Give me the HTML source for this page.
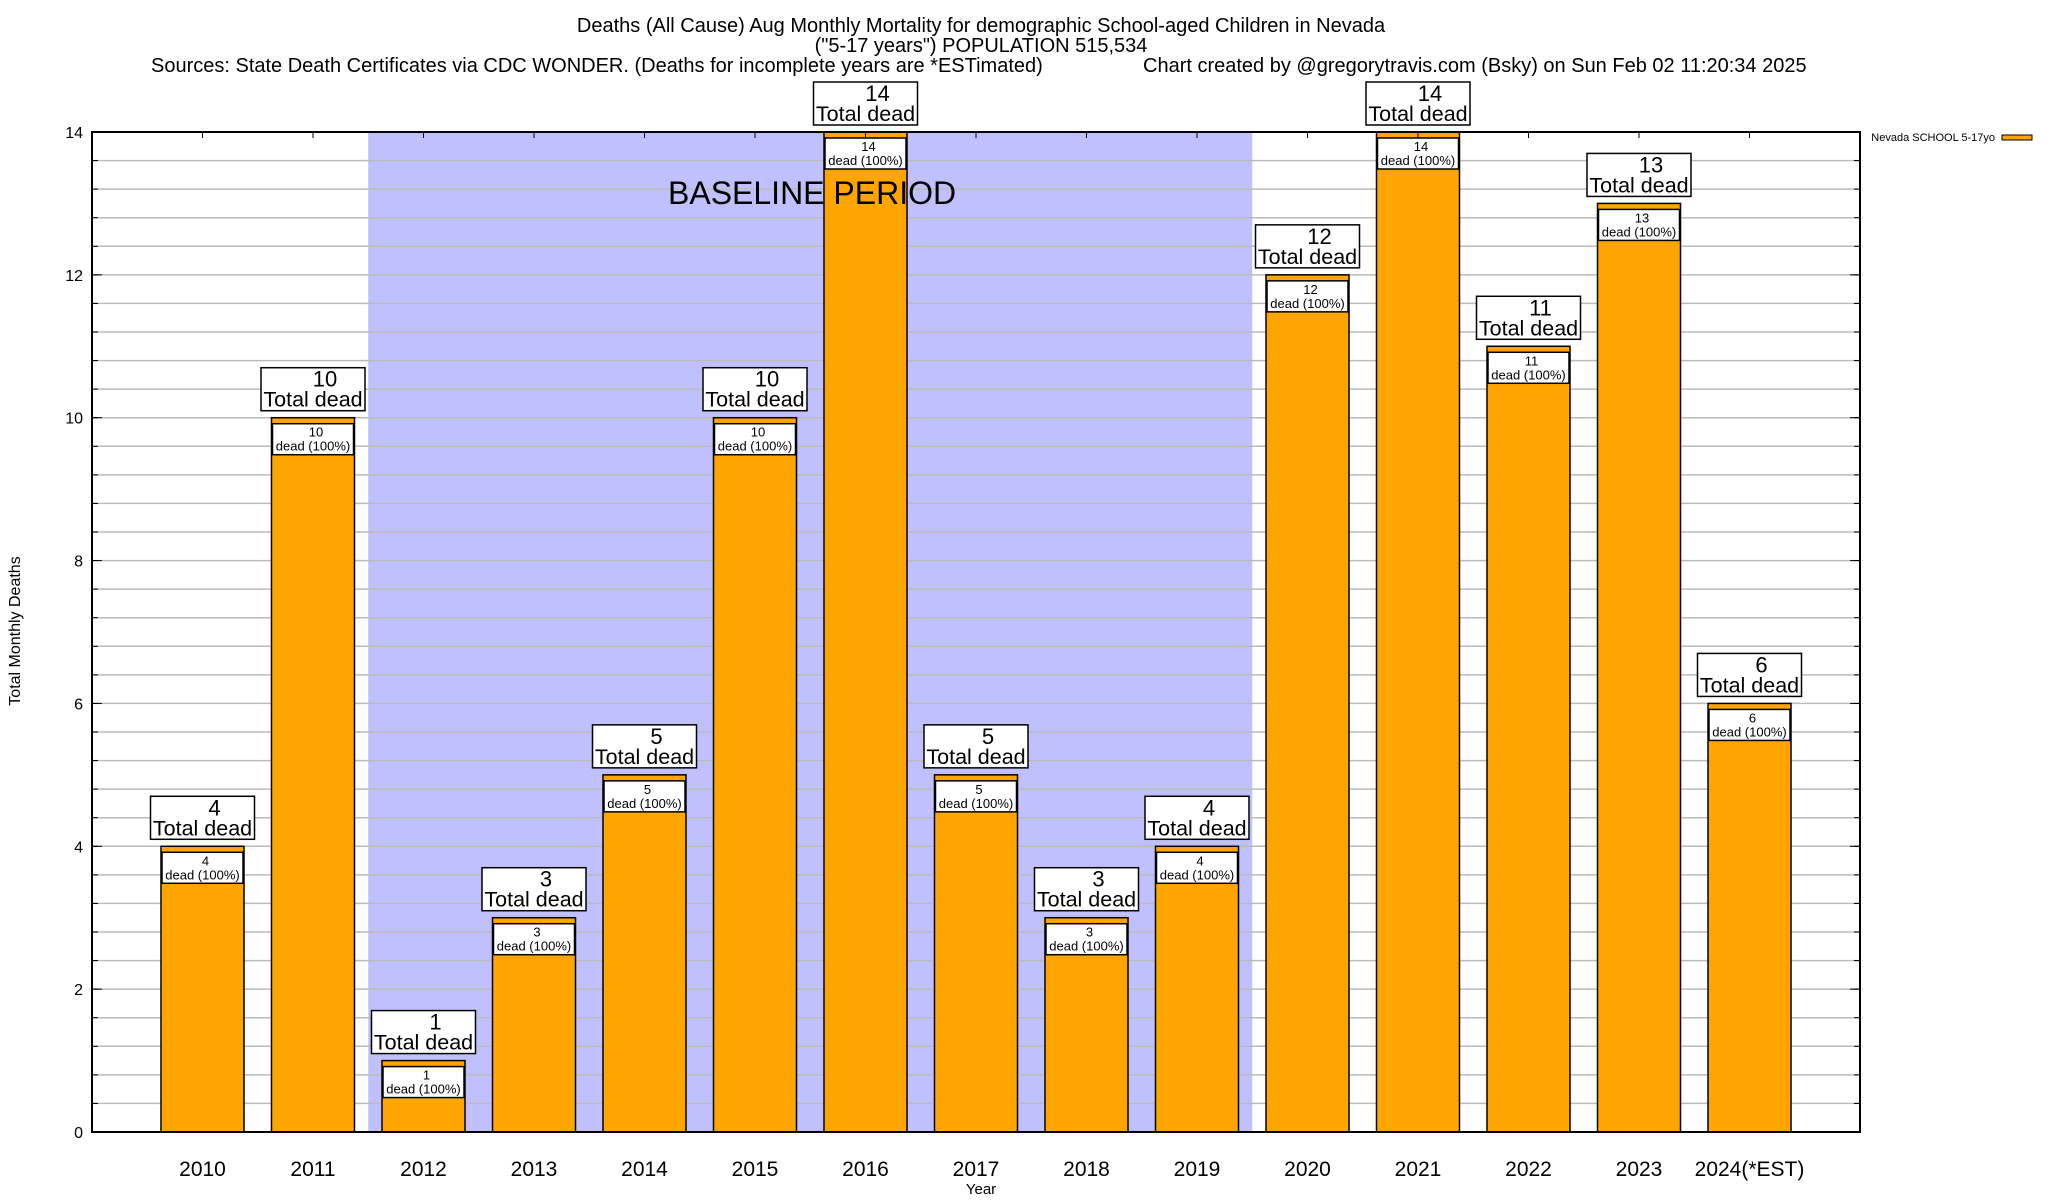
<!DOCTYPE html>
<html><head><meta charset="utf-8"><title>Nevada School-aged Children Aug Deaths</title>
<style>
html,body{margin:0;padding:0;background:#fff;}
svg{display:block;font-family:"Liberation Sans",Arial,sans-serif;}
</style></head>
<body>
<svg id="chart" width="2048" height="1200" viewBox="0 0 2048 1200" xmlns="http://www.w3.org/2000/svg">
  <text x="981" y="32" font-size="20" text-anchor="middle">Deaths (All Cause) Aug Monthly Mortality for demographic School-aged Children in Nevada</text>
  <text x="981" y="52" font-size="20" text-anchor="middle">("5-17 years") POPULATION 515,534</text>
  <text x="151" y="72" font-size="20">Sources: State Death Certificates via CDC WONDER. (Deaths for incomplete years are *ESTimated)</text>
  <text x="1143" y="72" font-size="20">Chart created by @gregorytravis.com (Bsky) on Sun Feb 02 11:20:34 2025</text>
  <g id="plot"></g>
  <text transform="translate(20,631) rotate(-90)" font-size="16" text-anchor="middle">Total Monthly Deaths</text>
  <text x="981" y="1194" font-size="15" text-anchor="middle">Year</text>
  <g>
    <text x="1995" y="141" font-size="11" text-anchor="end">Nevada SCHOOL 5-17yo</text>
    <rect x="2002" y="135" width="30" height="5" fill="#ffa500" stroke="#000" stroke-width="1"></rect>
  </g>
</svg>
<script>
const categories = ["2010","2011","2012","2013","2014","2015","2016","2017","2018","2019","2020","2021","2022","2023","2024(*EST)"];
const deaths = [4,10,1,3,5,10,14,5,3,4,12,14,11,13,6];
const yTicks = [0,2,4,6,8,10,12,14];
const baselineStart = 2;  // index of first baseline category
const baselineEnd = 9;    // index of last baseline category

const NS = "http://www.w3.org/2000/svg";
const L = 92, R = 1860, T = 132, B = 1132;
const yMin = 0, yMax = 14;
const step = (R - L) / (categories.length + 1);
function xScale(i){ return L + (i + 1) * step; }
function yScale(v){ return B - (v - yMin) / (yMax - yMin) * (B - T); }
const barW = 83;
const plot = document.getElementById('plot');
function mk(tag, attrs, parent){
  const e = document.createElementNS(NS, tag);
  for (const k in attrs) e.setAttribute(k, attrs[k]);
  (parent || plot).appendChild(e);
  return e;
}

const shade = mk('rect', {x: xScale(baselineStart - 0.5), y: T, width: xScale(baselineEnd + 0.5) - xScale(baselineStart - 0.5), height: B - T, fill: '#c0c0ff'});



for (let v = 0.4; v < yMax - 0.01; v += 0.4) {
  const g = mk('line', {x1: L, x2: R, y1: yScale(v), y2: yScale(v), stroke: '#bbbbbb', 'stroke-width': 1.5});
  
  
  const t1 = mk('line', {x1: L, x2: L + 6, y1: yScale(v), y2: yScale(v), stroke: '#000', 'stroke-width': 1});
  
  
  const t2 = mk('line', {x1: R - 6, x2: R, y1: yScale(v), y2: yScale(v), stroke: '#000', 'stroke-width': 1});
  
  
}

yTicks.forEach(v => {
  const t = mk('line', {x1: L, x2: L + 10, y1: yScale(v), y2: yScale(v), stroke: '#000', 'stroke-width': 1});
  
  
  const t2 = mk('line', {x1: R - 10, x2: R, y1: yScale(v), y2: yScale(v), stroke: '#000', 'stroke-width': 1});
  
  
  const lab = mk('text', {x: 83, y: yScale(v) + 6, 'font-size': 16, 'text-anchor': 'end'});
  lab.textContent = v;
  
  
});

categories.forEach((c, i) => {
  const v = deaths[i];
  const cx = xScale(i), top = yScale(v);
  const bar = mk('rect', {x: cx - barW/2, y: top, width: barW, height: B - top, fill: '#ffa500', stroke: '#000', 'stroke-width': 1.5});
  
  

  const ib = mk('rect', {x: cx - barW/2 + 1, y: top + 6, width: barW - 2, height: 31, fill: '#fff', stroke: '#000', 'stroke-width': 1.5});
  
  
  const n1 = mk('text', {x: cx + 3, y: top + 19, 'font-size': 13, 'text-anchor': 'middle'});
  n1.textContent = v;
  
  
  const n2 = mk('text', {x: cx, y: top + 33, 'font-size': 13, 'text-anchor': 'middle'});
  n2.textContent = 'dead (100%)';
  
  

  const ob = mk('rect', {x: cx - 52, y: top - 50, width: 104, height: 43, fill: '#fff', stroke: '#000', 'stroke-width': 1.5});
  
  
  const t1 = mk('text', {x: cx + 12, y: top - 31, 'font-size': 22, 'text-anchor': 'middle'});
  t1.textContent = v;
  
  
  const t2 = mk('text', {x: cx, y: top - 11, 'font-size': 21.5, 'text-anchor': 'middle'});
  t2.textContent = 'Total dead';
  
  

  const xt = mk('line', {x1: cx, x2: cx, y1: T, y2: T + 6, stroke: '#000', 'stroke-width': 1});
  
  
  const xl = mk('text', {x: cx, y: 1176, 'font-size': 21, 'text-anchor': 'middle'});
  xl.textContent = c;
  
  
});

const bl = mk('text', {x: 668, y: 204, 'font-size': 32});
bl.textContent = 'BASELINE PERIOD';



const fr = mk('rect', {x: L, y: T, width: R - L, height: B - T, fill: 'none', stroke: '#000', 'stroke-width': 2});


</script>
</body></html>
